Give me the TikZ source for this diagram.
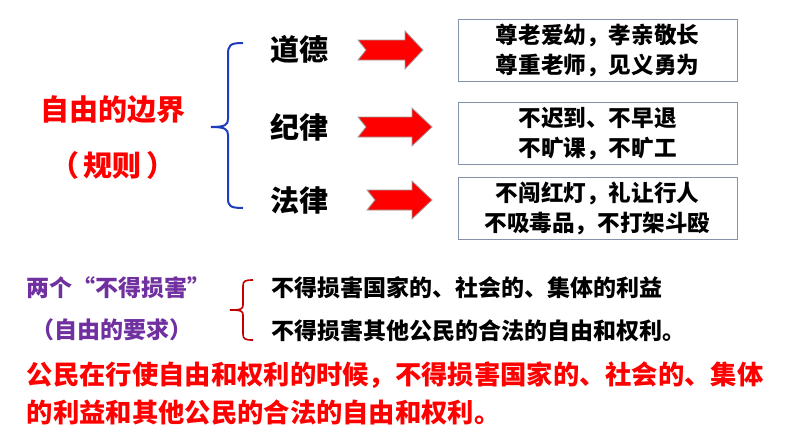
\documentclass[tikz,border=0pt]{standalone}
\usepackage{fontspec}
\setmainfont{Noto Sans CJK SC}
\definecolor{boxline}{RGB}{132,146,172}
\definecolor{bracblue}{RGB}{30,60,190}
\definecolor{bracred}{RGB}{192,0,0}
\definecolor{purp}{RGB}{112,48,160}
\definecolor{arrred}{RGB}{255,0,0}
\newcommand\redarrow[4]{%
  \fill[arrred,draw=gray!75,line width=0.8pt]
    ({#1},{#4-10}) -- ({#2},{#4-10}) -- ({#2},{#4-19}) -- ({#3},{#4}) --
    ({#2},{#4+19}) -- ({#2},{#4+10}) -- ({#1},{#4+10}) -- ({#1+8},{#4}) -- cycle;}
\begin{document}
\begin{tikzpicture}[x=1pt,y=-1pt,
  every node/.style={inner sep=0pt,outer sep=0pt,font=\bfseries},
  big/.style={font=\bfseries\fontsize{29}{34}\selectfont},
  boxtext/.style={draw=boxline,line width=0.9pt,minimum width=279pt,minimum height=62pt,
    align=center,font=\bfseries\fontsize{22.6}{30}\selectfont},
  mid/.style={font=\bfseries\fontsize{23}{28}\selectfont},
  bottom/.style={text=arrred,font=\bfseries\fontsize{26.3}{30}\selectfont}]
\useasboundingbox (0,0) rectangle (794,447);
% left title
\node[big,text=arrred] (title) at (113,110) {自由的边界};
\node[big,text=arrred] (rules) at (113,165) {（\hspace{5pt}规则\hspace{5pt}）};
% blue brace
\draw[bracblue,line width=2pt]
  (243,43) .. controls (230,43) and (228,45) .. (228,55) -- (228,119)
  .. controls (228,125) and (225,127) .. (211,127)
  .. controls (225,127) and (228,129) .. (228,135) -- (228,198)
  .. controls (228,206) and (230,208) .. (243,208);
% labels
\node[big] (moral) at (299,50) {道德};
\node[big] (disc) at (299,127) {纪律};
\node[big] (law) at (299,200) {法律};
% arrows
\redarrow{358}{405}{423}{50}
\redarrow{358}{412}{432}{127}
\redarrow{367}{412}{432}{200}
% boxes
\node[boxtext] (b1) at (597.5,50) {尊老爱幼，孝亲敬长\\尊重老师，见义勇为};
\node[boxtext] (b2) at (597.5,133.5) {不迟到、不早退\\不旷课，不旷工};
\node[boxtext] (b3) at (597.5,208) {不闯红灯，礼让行人\\不吸毒品，不打架斗殴};
% two requirements
\node[mid,text=purp] (two) at (118.5,288) {两个“不得损害”};
\node[mid,text=purp] (req) at (112,330) {（自由的要求）};
\draw[bracred,line width=1.6pt]
  (253,280) .. controls (245,280) and (243,281) .. (243,286) -- (243,305)
  .. controls (243,309) and (241,310) .. (230,310)
  .. controls (241,310) and (243,311) .. (243,315) -- (243,334)
  .. controls (243,339) and (245,340) .. (253,340);
\node[mid,anchor=west] (l1) at (271,288) {不得损害国家的、社会的、集体的利益};
\node[mid,anchor=west] (l2) at (271,331) {不得损害其他公民的合法的自由和权利。};
% conclusion
\node[bottom,anchor=west] (c1) at (27,375) {公民在行使自由和权利的时候，不得损害国家的、社会的、集体};
\node[bottom,anchor=west] (c2) at (27,412) {的利益和其他公民的合法的自由和权利。};
\end{tikzpicture}
\end{document}
